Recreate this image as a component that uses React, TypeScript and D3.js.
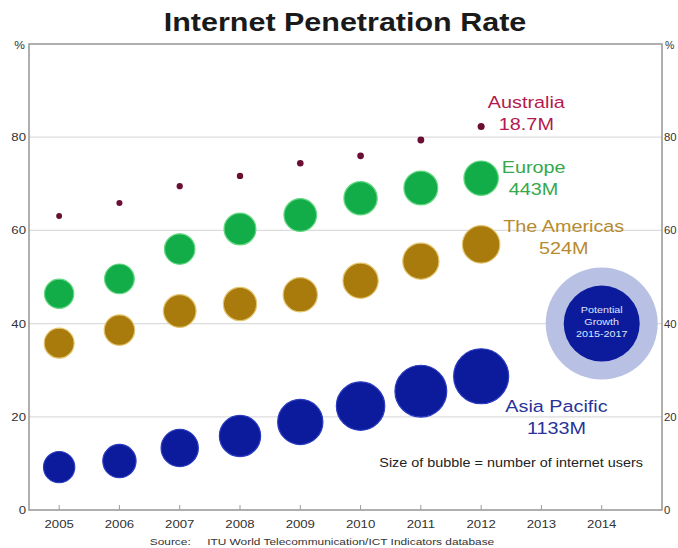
import React from "react";
import * as d3 from "d3";

// Internet penetration (% of population) by region, with users (millions) as bubble size
const years = [2005, 2006, 2007, 2008, 2009, 2010, 2011, 2012];
const xTicks = [2005, 2006, 2007, 2008, 2009, 2010, 2011, 2012, 2013, 2014];
const yTicks = [0, 20, 40, 60, 80];

const australiaRate = [63.1, 65.9, 69.5, 71.7, 74.4, 76.0, 79.4, 82.3];
const australiaUsers = [13.0, 13.7, 14.6, 15.3, 16.2, 16.9, 17.8, 18.7];

const europeRate = [46.4, 49.6, 56.0, 60.3, 63.3, 66.9, 69.1, 71.2];
const europeUsers = [321, 330, 348, 381, 400, 415, 430, 443];

const americasRate = [35.8, 38.6, 42.7, 44.2, 46.2, 49.2, 53.4, 57.0];
const americasUsers = [335, 348, 400, 415, 440, 465, 490, 524];

const asiaRate = [9.2, 10.5, 13.3, 15.9, 18.9, 22.3, 25.5, 28.7];
const asiaUsers = [366, 415, 520, 637, 766, 878, 1005, 1133];

const W = 678;
const H = 548;
const left = 29;
const right = 662;
const top = 44;
const bottom = 510;

const FONT = "'Liberation Sans', Arial, sans-serif";
const SX = 1.2; // lettering is set slightly wide

type Series = {
  name: string;
  total: string;
  rate: number[];
  users: number[];
  fill: string;
  stroke: string;
  text: string;
  labelX: number; // label anchor in years
  labelRate: number; // label anchor in %
};

const series: Series[] = [
  { name: "Asia Pacific", total: "1133M", rate: asiaRate, users: asiaUsers, fill: "#0b1b9c", stroke: "#2c3cc0", text: "#27339a", labelX: 2013.25, labelRate: 21 },
  { name: "The Americas", total: "524M", rate: americasRate, users: americasUsers, fill: "#a97a0c", stroke: "#e2c46e", text: "#b68b2e", labelX: 2013.37, labelRate: 59.7 },
  { name: "Europe", total: "443M", rate: europeRate, users: europeUsers, fill: "#12ad48", stroke: "#66d884", text: "#35a84e", labelX: 2012.87, labelRate: 72.3 },
  { name: "Australia", total: "18.7M", rate: australiaRate, users: australiaUsers, fill: "#6a0e33", stroke: "#6a0e33", text: "#b3194e", labelX: 2012.75, labelRate: 86.3 },
];

type TProps = {
  x: number;
  y: number;
  size: number;
  anchor?: "start" | "middle" | "end";
  fill?: string;
  weight?: string;
  sx?: number;
  children: React.ReactNode;
};

function T({ x, y, size, anchor = "start", fill = "#333", weight, sx = SX, children }: TProps) {
  return (
    <text
      transform={`translate(${x},${y}) scale(${sx},1)`}
      fontSize={size}
      textAnchor={anchor}
      fill={fill}
      fontWeight={weight}
      xmlSpace="preserve"
    >
      {children}
    </text>
  );
}

export default function App() {
  const x = d3.scaleLinear().domain([2004.5, 2015]).range([left, right]);
  const y = d3.scaleLinear().domain([0, 100]).range([bottom, top]);
  const r = d3.scaleSqrt().domain([0, 1133]).range([0, 27.5]);

  return (
    <svg
      width={W}
      height={H}
      style={{ position: "absolute", left: 0, top: 0, background: "#fff" }}
      fontFamily={FONT}
    >
      <rect width={W} height={H} fill="#fff" />
      <T x={345} y={31} size={25} anchor="middle" weight="bold" fill="#1a1a1a" sx={1.22}>
        Internet Penetration Rate
      </T>

      {/* gridlines */}
      {yTicks.filter((t) => t > 0).map((t) => (
        <line key={t} x1={left} x2={right} y1={y(t)} y2={y(t)} stroke="#dcdcdc" strokeWidth={1.2} />
      ))}

      {/* frame */}
      <rect x={left} y={top} width={right - left} height={bottom - top} fill="none" stroke="#9c9c9c" strokeWidth={1.6} />

      {/* y labels both sides */}
      {yTicks.map((t) => (
        <g key={t}>
          <T x={left - 3} y={y(t) + 4} size={11} anchor="end">{t}</T>
          <T x={right + 2} y={y(t) + 4} size={10.5} sx={1.08}>{t}</T>
        </g>
      ))}
      <T x={left - 4} y={top + 5} size={10} anchor="end">%</T>
      <T x={right + 3} y={top + 5} size={10} sx={1.05}>%</T>

      {/* x ticks and labels */}
      {xTicks.map((t) => (
        <g key={t}>
          <line x1={x(t)} x2={x(t)} y1={bottom} y2={bottom - 5} stroke="#9c9c9c" strokeWidth={1} />
          <T x={x(t)} y={528} size={11} anchor="middle">{t}</T>
        </g>
      ))}

      {/* bubbles */}
      {series.map((s) => (
        <g key={s.name}>
          {years.map((yr, i) => (
            <circle
              key={yr}
              cx={x(yr)}
              cy={y(s.rate[i])}
              r={r(s.users[i])}
              fill={s.fill}
              stroke={s.stroke}
              strokeWidth={s.name === "Australia" ? 0 : 1.2}
            />
          ))}
          <T x={x(s.labelX)} y={y(s.labelRate)} size={16.5} anchor="middle" fill={s.text}>{s.name}</T>
          <T x={x(s.labelX)} y={y(s.labelRate) + 22} size={16.5} anchor="middle" fill={s.text}>{s.total}</T>
        </g>
      ))}

      {/* potential growth bubble */}
      <g>
        <circle cx={x(2014)} cy={y(40)} r={56} fill="#b8c0e4" />
        <circle cx={x(2014)} cy={y(40)} r={38} fill="#0b1b9c" />
        <T x={x(2014)} y={y(40) - 11} size={9} anchor="middle" fill="#dfe3ff">Potential</T>
        <T x={x(2014)} y={y(40) + 1} size={9} anchor="middle" fill="#dfe3ff">Growth</T>
        <T x={x(2014)} y={y(40) + 13} size={9} anchor="middle" fill="#dfe3ff">2015-2017</T>
      </g>

      <T x={643} y={467} size={12} anchor="end" fill="#222">
        Size of bubble = number of internet users
      </T>

      <T x={322} y={545} size={9.5} anchor="middle" fill="#333" sx={1.25}>
        {"Source:     ITU World Telecommunication/ICT Indicators database"}
      </T>
    </svg>
  );
}
